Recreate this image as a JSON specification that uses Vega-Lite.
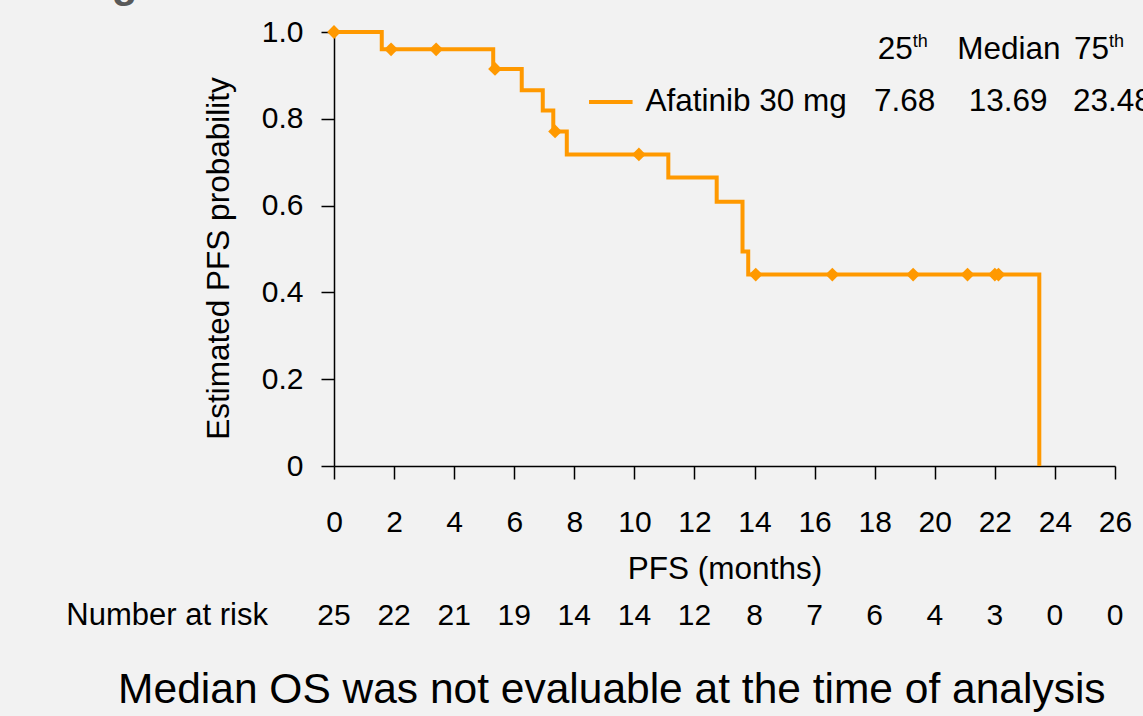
{
  "$schema": "https://vega.github.io/schema/vega-lite/v6.json",
  "width": 781,
  "height": 434,
  "autosize": {"type": "none"},
  "padding": {"left": 334, "top": 32, "right": 28, "bottom": 250},
  "background": "#f2f2f2",
  "config": {
    "view": {"stroke": null},
    "font": "Liberation Sans",
    "text": {"font": "Liberation Sans", "color": "#000000"},
    "axis": {
      "grid": false,
      "domainColor": "#000000",
      "domainWidth": 1.5,
      "tickColor": "#000000",
      "tickWidth": 1.5,
      "tickSize": 13,
      "labelFont": "Liberation Sans",
      "labelFontSize": 30,
      "labelColor": "#000000",
      "titleFont": "Liberation Sans",
      "titleFontSize": 31.5,
      "titleFontWeight": "normal",
      "titleColor": "#000000"
    }
  },
  "datasets": {
    "km": [
      {"month": 0, "surv": 1.0},
      {"month": 1.59, "surv": 0.96},
      {"month": 5.3, "surv": 0.915},
      {"month": 6.25, "surv": 0.866},
      {"month": 6.95, "surv": 0.819},
      {"month": 7.3, "surv": 0.771},
      {"month": 7.75, "surv": 0.718},
      {"month": 11.13, "surv": 0.665},
      {"month": 12.74, "surv": 0.609},
      {"month": 13.6, "surv": 0.494},
      {"month": 13.79, "surv": 0.441},
      {"month": 23.48, "surv": 0.0}
    ],
    "censor": [
      {"month": 0, "surv": 1.0},
      {"month": 1.9, "surv": 0.96},
      {"month": 3.4, "surv": 0.96},
      {"month": 5.36, "surv": 0.915},
      {"month": 7.36, "surv": 0.771},
      {"month": 10.15, "surv": 0.718},
      {"month": 14.04, "surv": 0.441},
      {"month": 16.59, "surv": 0.441},
      {"month": 19.28, "surv": 0.441},
      {"month": 21.09, "surv": 0.441},
      {"month": 22.0, "surv": 0.441},
      {"month": 22.12, "surv": 0.441}
    ],
    "risk": [
      {"month": 0, "n": 25},
      {"month": 2, "n": 22},
      {"month": 4, "n": 21},
      {"month": 6, "n": 19},
      {"month": 8, "n": 14},
      {"month": 10, "n": 14},
      {"month": 12, "n": 12},
      {"month": 14, "n": 8},
      {"month": 16, "n": 7},
      {"month": 18, "n": 6},
      {"month": 20, "n": 4},
      {"month": 22, "n": 3},
      {"month": 24, "n": 0},
      {"month": 26, "n": 0}
    ]
  },
  "layer": [
    {
      "data": {"name": "km"},
      "mark": {"type": "line", "interpolate": "step-after", "color": "#ff9900", "strokeWidth": 4, "clip": false},
      "encoding": {
        "x": {
          "field": "month", "type": "quantitative",
          "scale": {"domain": [0, 26], "nice": false},
          "axis": {"values": [0, 2, 4, 6, 8, 10, 12, 14, 16, 18, 20, 22, 24, 26], "title": "PFS (months)", "labelPadding": 28, "titlePadding": 16, "labelFlush": false, "labelOverlap": false}
        },
        "y": {
          "field": "surv", "type": "quantitative",
          "scale": {"domain": [0, 1], "nice": false},
          "axis": {"values": [0, 0.2, 0.4, 0.6, 0.8, 1.0], "title": "Estimated PFS probability", "labelPadding": 18, "titlePadding": 26, "titleY": 226, "labelExpr": "datum.value == 0 ? '0' : format(datum.value, '.1f')", "labelFlush": false}
        }
      }
    },
    {
      "data": {"name": "censor"},
      "mark": {"type": "point", "shape": "diamond", "filled": true, "color": "#ff9900", "size": 190, "opacity": 1, "clip": false},
      "encoding": {
        "x": {"field": "month", "type": "quantitative"},
        "y": {"field": "surv", "type": "quantitative"}
      }
    },
    {
      "data": {"name": "risk"},
      "mark": {"type": "text", "fontSize": 30, "align": "center", "baseline": "middle"},
      "encoding": {
        "x": {"field": "month", "type": "quantitative"},
        "y": {"datum": -0.3456},
        "text": {"field": "n", "type": "quantitative"}
      }
    },
    {
      "data": {"values": [{}]},
      "layer": [
        {
          "mark": {"type": "text", "text": "Number at risk", "fontSize": 31, "align": "right", "baseline": "middle"},
          "encoding": {"x": {"datum": -2.2}, "y": {"datum": -0.3456}}
        },
        {
          "mark": {"type": "text", "text": "Median OS was not evaluable at the time of analysis", "fontSize": 42.5, "align": "center", "baseline": "middle"},
          "encoding": {"x": {"datum": 9.25}, "y": {"datum": -0.516}}
        },
        {
          "mark": {"type": "rule", "color": "#ff9900", "strokeWidth": 4},
          "encoding": {"x": {"datum": 8.49}, "x2": {"datum": 9.94}, "y": {"datum": 0.8387}}
        },
        {
          "mark": {"type": "text", "text": "Afatinib 30 mg", "fontSize": 31.5, "align": "left", "baseline": "middle"},
          "encoding": {"x": {"datum": 10.37}, "y": {"datum": 0.8387}}
        },
        {
          "mark": {"type": "text", "text": "7.68", "fontSize": 31.5, "align": "center", "baseline": "middle"},
          "encoding": {"x": {"datum": 19.0}, "y": {"datum": 0.8387}}
        },
        {
          "mark": {"type": "text", "text": "13.69", "fontSize": 31.5, "align": "center", "baseline": "middle"},
          "encoding": {"x": {"datum": 22.44}, "y": {"datum": 0.8387}}
        },
        {
          "mark": {"type": "text", "text": "23.48", "fontSize": 31.5, "align": "left", "baseline": "middle"},
          "encoding": {"x": {"datum": 24.6}, "y": {"datum": 0.8387}}
        },
        {
          "mark": {"type": "text", "text": "25", "fontSize": 31.5, "align": "right", "baseline": "middle"},
          "encoding": {"x": {"datum": 19.27}, "y": {"datum": 0.9585}}
        },
        {
          "mark": {"type": "text", "text": "th", "fontSize": 18, "align": "left", "baseline": "middle"},
          "encoding": {"x": {"datum": 19.27}, "y": {"datum": 0.978}}
        },
        {
          "mark": {"type": "text", "text": "Median", "fontSize": 31.5, "align": "center", "baseline": "middle"},
          "encoding": {"x": {"datum": 22.47}, "y": {"datum": 0.9585}}
        },
        {
          "mark": {"type": "text", "text": "75", "fontSize": 31.5, "align": "right", "baseline": "middle"},
          "encoding": {"x": {"datum": 25.8}, "y": {"datum": 0.9585}}
        },
        {
          "mark": {"type": "text", "text": "th", "fontSize": 18, "align": "left", "baseline": "middle"},
          "encoding": {"x": {"datum": 25.8}, "y": {"datum": 0.978}}
        },
        {
          "mark": {"type": "text", "text": "g", "fontSize": 42, "fontWeight": "bold", "color": "#595959", "align": "center", "baseline": "alphabetic"},
          "encoding": {"x": {"datum": -6.97}, "y": {"datum": 1.0806}}
        }
      ]
    }
  ]
}
